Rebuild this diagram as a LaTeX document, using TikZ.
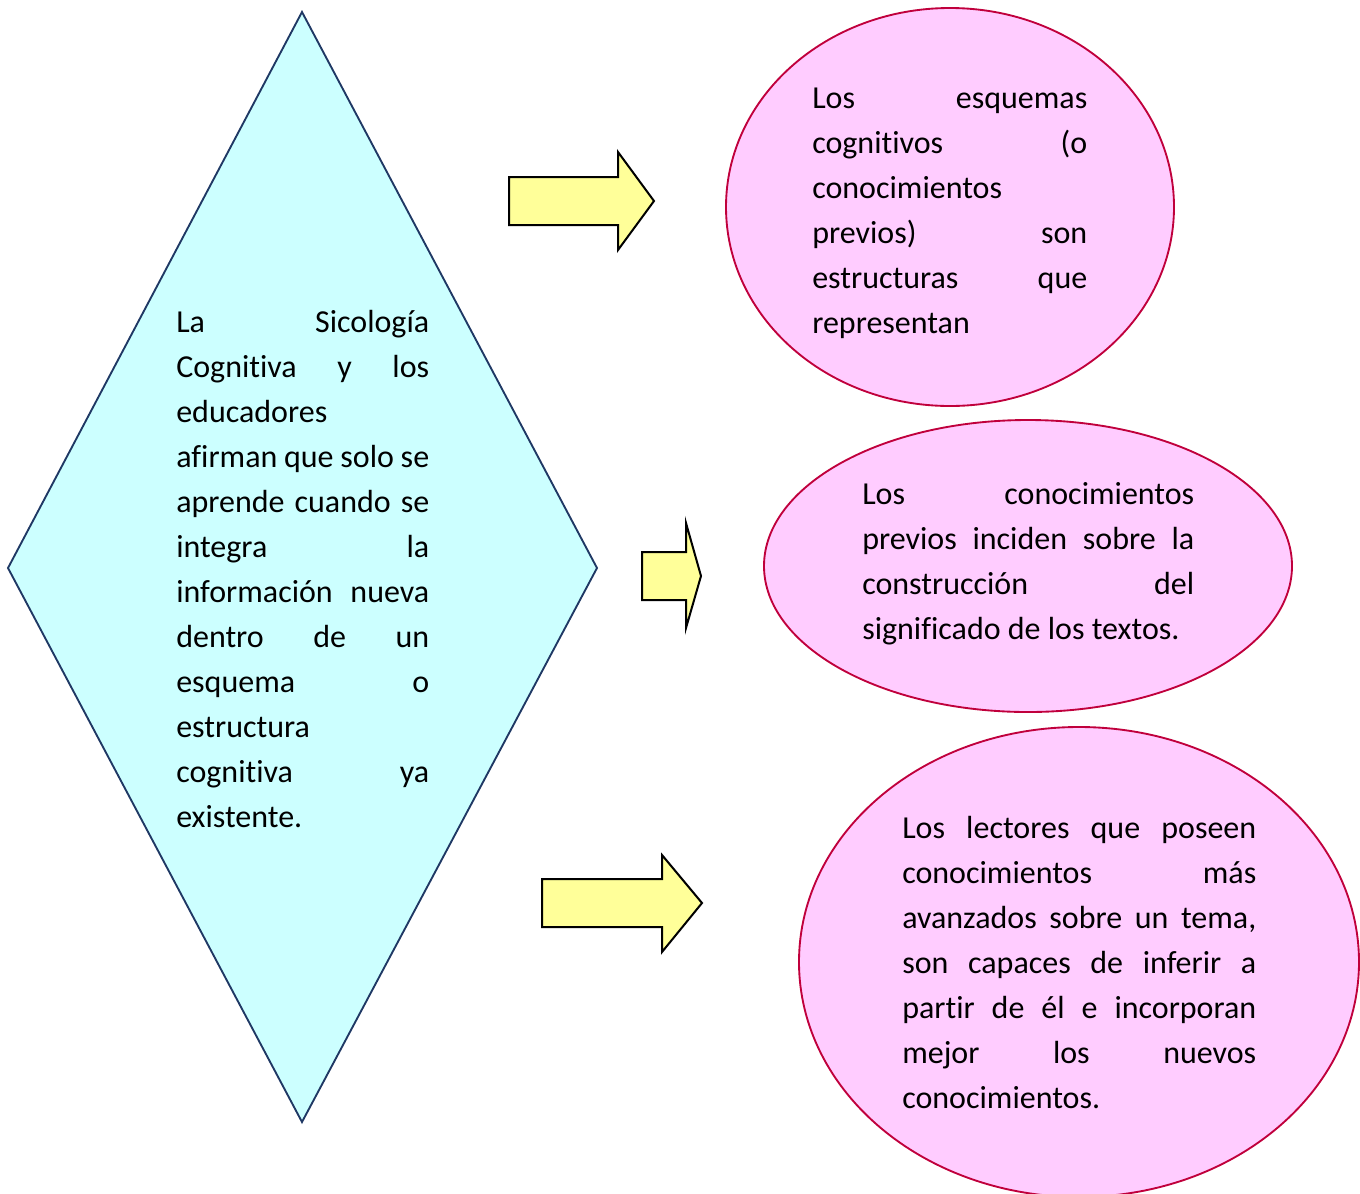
\documentclass[tikz,border=0pt]{standalone}
\usepackage{fontspec}
\setmainfont[Ligatures=NoCommon]{Carlito}
\definecolor{diamfill}{HTML}{CCFFFF}
\definecolor{diamline}{HTML}{1F3864}
\definecolor{ellfill}{HTML}{FFCCFF}
\definecolor{ellline}{HTML}{C0003C}
\definecolor{arrfill}{HTML}{FFFF99}
\newdimen\px \px=0.75pt
\newcommand\jl[1]{\hbox to\hsize{\vrule height 24pt width 0pt\spaceskip=\fontdimen2\font plus 1fil minus .05em\relax #1}}
\newcommand\nl[1]{\hbox{\vrule height 24pt width 0pt #1}}
\newcommand\tb[2]{\vbox{\hsize=#1\px\relax\baselineskip=33.75pt\lineskip=0pt\lineskiplimit=0pt #2}}
\tikzset{
  diam/.style={draw=diamline, fill=diamfill, line width=1.4pt, line join=miter},
  ell/.style={draw=ellline, fill=ellfill, line width=1.4pt},
  arr/.style={draw=black, fill=arrfill, line width=1.5pt, line join=miter},
  txt/.style={anchor=north west, inner sep=0pt, font=\fontsize{24pt}{33.75pt}\selectfont}
}
\begin{document}
\begin{tikzpicture}[x=0.75pt,y=-0.75pt]
\useasboundingbox (0,0) rectangle (1360,1193);
\clip (0,0) rectangle (1360,1193);
% diamond
\draw[diam] (302,12) -- (597,568) -- (302,1122) -- (8,568) -- cycle;
% ellipses
\draw[ell] (950,207) ellipse [x radius=224, y radius=199];
\draw[ell] (1028,566) ellipse [x radius=264, y radius=146];
\draw[ell] (1079,962) ellipse [x radius=280, y radius=235];
% arrows
\draw[arr] (509,177) -- (618,177) -- (618,152) -- (654,201) -- (618,250) -- (618,225) -- (509,225) -- cycle;
\draw[arr] (642,552) -- (686,552) -- (686,523) -- (701,576) -- (686,628) -- (686,600) -- (642,600) -- cycle;
\draw[arr] (542,879) -- (662,879) -- (662,855) -- (702,903) -- (662,952) -- (662,927) -- (542,927) -- cycle;
% texts
\node[txt] (t0) at (176,300) {\tb{253}{%
\jl{La Sicología}
\jl{Cognitiva y los}
\nl{educadores}
\jl{afirman que solo se}
\jl{aprende cuando se}
\jl{integra la}
\jl{información nueva}
\jl{dentro de un}
\jl{esquema o}
\nl{estructura}
\jl{cognitiva ya}
\nl{existente.}}};
\node[txt] (t1) at (812,76) {\tb{275}{%
\jl{Los esquemas}
\jl{cognitivos (o}
\nl{conocimientos}
\jl{previos) son}
\jl{estructuras que}
\nl{representan}}};
\node[txt] (t2) at (862,472) {\tb{332}{%
\jl{Los conocimientos}
\jl{previos inciden sobre la}
\jl{construcción del}
\nl{significado de los textos.}}};
\node[txt] (t3) at (902,806) {\tb{354}{%
\jl{Los lectores que poseen}
\jl{conocimientos más}
\jl{avanzados sobre un tema,}
\jl{son capaces de inferir a}
\jl{partir de él e incorporan}
\jl{mejor los nuevos}
\nl{conocimientos.}}};
\end{tikzpicture}
\end{document}
